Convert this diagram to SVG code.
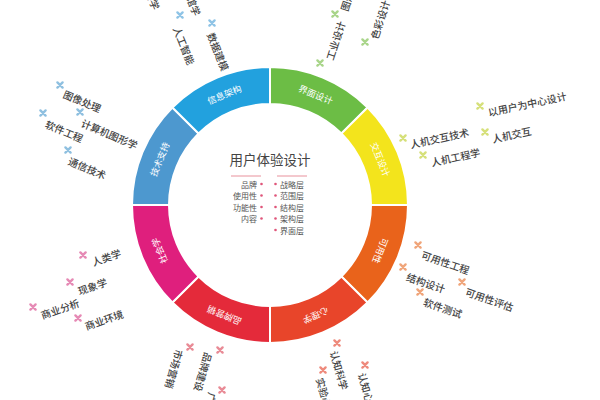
<svg xmlns="http://www.w3.org/2000/svg" width="600" height="400" viewBox="0 0 600 400">
<style>
  text { font-family: "Noto Sans CJK SC", "Noto Sans", sans-serif; }
  .seg { stroke: #ffffff; stroke-width: 2; }
  .sl { fill: #ffffff; font-size: 9px; text-anchor: middle; dominant-baseline: central; }
  .ol { fill: #444444; font-size: 10px; font-weight: 500; dominant-baseline: central; }
  .title { fill: #444444; font-size: 13.5px; text-anchor: middle; }
  .li { fill: #555555; font-size: 8px; dominant-baseline: central; }
  .dot { fill: #e0557a; }
  use { stroke-width: 2.4; stroke-linecap: round; fill: none; }
  .m-ia { stroke: #8fc4e6; }
  .m-if { stroke: #a9d58a; }
  .m-ix { stroke: #d6e07a; }
  .m-us { stroke: #f0a57a; }
  .m-ps { stroke: #ee8a7c; }
  .m-br { stroke: #e98b96; }
  .m-so { stroke: #e68ab5; }
  .m-te { stroke: #8fc0e0; }
</style>
<defs>
  <path id="mk" d="M-2.6,-2.6 L2.6,2.6 M-2.6,2.6 L2.6,-2.6"/>
</defs>
<rect width="600" height="400" fill="#ffffff"/>

<g id="ring">
  <g id="seg-interface"><path class="seg" fill="#6cbd45" d="M270,67 A138,138 0 0 1 367.58,107.42 L341.42,133.58 A101,101 0 0 0 270,104 Z"/><text class="sl" transform="translate(315.7,94.6) rotate(22.5)">界面设计</text></g>
  <g id="seg-interaction"><path class="seg" fill="#f3e41c" d="M367.58,107.42 A138,138 0 0 1 408,205 L371,205 A101,101 0 0 0 341.42,133.58 Z"/><text class="sl" transform="translate(380.4,159.3) rotate(67.5)">交互设计</text></g>
  <g id="seg-usability"><path class="seg" fill="#e9631b" d="M408,205 A138,138 0 0 1 367.58,302.58 L341.42,276.42 A101,101 0 0 0 371,205 Z"/><text class="sl" transform="translate(380.4,250.7) rotate(112.5)">可用性</text></g>
  <g id="seg-psychology"><path class="seg" fill="#e8452a" d="M367.58,302.58 A138,138 0 0 1 270,343 L270,306 A101,101 0 0 0 341.42,276.42 Z"/><text class="sl" transform="translate(315.7,315.4) rotate(157.5)">心理学</text></g>
  <g id="seg-brand"><path class="seg" fill="#e42a3a" d="M270,343 A138,138 0 0 1 172.42,302.58 L198.58,276.42 A101,101 0 0 0 270,306 Z"/><text class="sl" transform="translate(224.3,315.4) rotate(202.5)">品牌营销</text></g>
  <g id="seg-sociology"><path class="seg" fill="#df1f7d" d="M172.42,302.58 A138,138 0 0 1 132,205 L169,205 A101,101 0 0 0 198.58,276.42 Z"/><text class="sl" transform="translate(159.6,250.7) rotate(247.5)">社会学</text></g>
  <g id="seg-tech"><path class="seg" fill="#4d98cf" d="M132,205 A138,138 0 0 1 172.42,107.42 L198.58,133.58 A101,101 0 0 0 169,205 Z"/><text class="sl" transform="translate(159.6,159.3) rotate(292.5)">技术支持</text></g>
  <g id="seg-ia"><path class="seg" fill="#22a1de" d="M172.42,107.42 A138,138 0 0 1 270,67 L270,104 A101,101 0 0 0 198.58,133.58 Z"/><text class="sl" transform="translate(224.3,94.6) rotate(337.5)">信息架构</text></g>
</g>

<g id="center">
  <text class="title" x="270" y="165">用户体验设计</text>
  <line x1="231" y1="176" x2="261" y2="176" stroke="#e8919c" stroke-width="1"/>
  <line x1="277" y1="176" x2="307" y2="176" stroke="#e8919c" stroke-width="1"/>
  <g text-anchor="end">
    <text class="li" x="257" y="184">品牌</text>
    <text class="li" x="257" y="195.5">使用性</text>
    <text class="li" x="257" y="207">功能性</text>
    <text class="li" x="257" y="218.5">内容</text>
  </g>
  <circle class="dot" cx="261.5" cy="184" r="1.3"/>
  <circle class="dot" cx="261.5" cy="195.5" r="1.3"/>
  <circle class="dot" cx="261.5" cy="207" r="1.3"/>
  <circle class="dot" cx="261.5" cy="218.5" r="1.3"/>
  <circle class="dot" cx="275.5" cy="184" r="1.3"/>
  <circle class="dot" cx="275.5" cy="195.5" r="1.3"/>
  <circle class="dot" cx="275.5" cy="207" r="1.3"/>
  <circle class="dot" cx="275.5" cy="218.5" r="1.3"/>
  <circle class="dot" cx="275.5" cy="230" r="1.3"/>
  <text class="li" x="280" y="184">战略层</text>
  <text class="li" x="280" y="195.5">范围层</text>
  <text class="li" x="280" y="207">结构层</text>
  <text class="li" x="280" y="218.5">架构层</text>
  <text class="li" x="280" y="230">界面层</text>
</g>

<g id="labels-ia">
  <text class="ol" text-anchor="end" transform="translate(157,9) rotate(68)">信息科学</text>
  <text class="ol" text-anchor="end" transform="translate(198,15) rotate(68)">图书馆学</text>
  <use class="m-ia" href="#mk" x="180" y="15"/>
  <text class="ol" transform="translate(177,27) rotate(68)">人工智能</text>
  <use class="m-ia" href="#mk" x="212" y="23"/>
  <text class="ol" transform="translate(211,33) rotate(68)">数据建模</text>
</g>

<g id="labels-interface">
  <use class="m-if" href="#mk" x="335" y="14"/>
  <text class="ol" transform="translate(343.5,10.5) rotate(-72)">图形设计</text>
  <use class="m-if" href="#mk" x="320" y="63"/>
  <text class="ol" transform="translate(329,59.5) rotate(-72)">工业设计</text>
  <use class="m-if" href="#mk" x="365" y="42"/>
  <text class="ol" transform="translate(373.5,38.5) rotate(-72)">色彩设计</text>
</g>

<g id="labels-interaction">
  <use class="m-ix" href="#mk" x="480" y="106"/>
  <text class="ol" transform="translate(488,112) rotate(-12)">以用户为中心设计</text>
  <use class="m-ix" href="#mk" x="403" y="138"/>
  <text class="ol" transform="translate(410,144) rotate(-12)">人机交互技术</text>
  <use class="m-ix" href="#mk" x="485" y="132"/>
  <text class="ol" transform="translate(492,138.5) rotate(-12)">人机交互</text>
  <use class="m-ix" href="#mk" x="423" y="155"/>
  <text class="ol" transform="translate(431,162) rotate(-12)">人机工程学</text>
</g>

<g id="labels-usability">
  <use class="m-us" href="#mk" x="418" y="245"/>
  <text class="ol" transform="translate(422,254) rotate(19)">可用性工程</text>
  <use class="m-us" href="#mk" x="403" y="267"/>
  <text class="ol" transform="translate(407,276) rotate(19)">结构设计</text>
  <use class="m-us" href="#mk" x="462" y="282"/>
  <text class="ol" transform="translate(466,291) rotate(19)">可用性评估</text>
  <use class="m-us" href="#mk" x="420" y="292"/>
  <text class="ol" transform="translate(424,301) rotate(19)">软件测试</text>
</g>

<g id="labels-psychology">
  <use class="m-ps" href="#mk" x="337" y="343"/>
  <text class="ol" transform="translate(334,351) rotate(74)">认知科学</text>
  <use class="m-ps" href="#mk" x="365" y="365"/>
  <text class="ol" transform="translate(362,373) rotate(74)">认知心理学</text>
  <use class="m-ps" href="#mk" x="323" y="370"/>
  <text class="ol" transform="translate(320,378) rotate(74)">实验心理学</text>
</g>

<g id="labels-brand">
  <use class="m-br" href="#mk" x="190" y="347"/>
  <text class="ol" transform="translate(180,350) rotate(106)">市场营销</text>
  <use class="m-br" href="#mk" x="220" y="350"/>
  <text class="ol" transform="translate(209,353) rotate(106)">品牌建设</text>
  <use class="m-br" href="#mk" x="222" y="390"/>
  <text class="ol" transform="translate(213,393) rotate(106)">广告学</text>
</g>

<g id="labels-sociology">
  <use class="m-so" href="#mk" x="83" y="255"/>
  <text class="ol" transform="translate(92,262) rotate(-19)">人类学</text>
  <use class="m-so" href="#mk" x="70" y="282"/>
  <text class="ol" transform="translate(78,291) rotate(-19)">现象学</text>
  <use class="m-so" href="#mk" x="33" y="307"/>
  <text class="ol" transform="translate(41,315) rotate(-19)">商业分析</text>
  <use class="m-so" href="#mk" x="78" y="318"/>
  <text class="ol" transform="translate(85,326) rotate(-19)">商业环境</text>
</g>

<g id="labels-tech">
  <use class="m-te" href="#mk" x="60" y="85"/>
  <text class="ol" transform="translate(64,93) rotate(23)">图像处理</text>
  <use class="m-te" href="#mk" x="80" y="112"/>
  <text class="ol" transform="translate(82,122) rotate(23)">计算机图形学</text>
  <use class="m-te" href="#mk" x="43" y="113"/>
  <text class="ol" transform="translate(46,123) rotate(23)">软件工程</text>
  <use class="m-te" href="#mk" x="68" y="150"/>
  <text class="ol" transform="translate(69,160) rotate(23)">通信技术</text>
</g>
</svg>
